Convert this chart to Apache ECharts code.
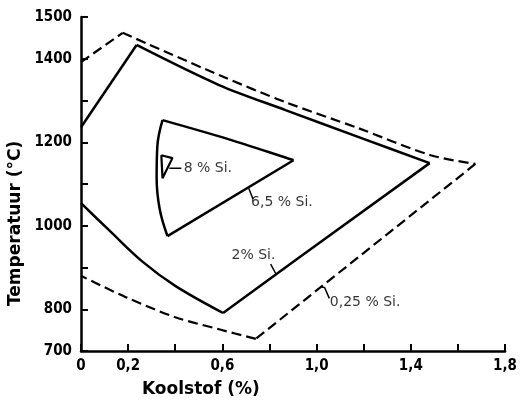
<!DOCTYPE html>
<html>
<head>
<meta charset="utf-8">
<script src="https://cdn.jsdelivr.net/npm/echarts@6/dist/echarts.min.js"></script>
<style>html,body{margin:0;padding:0;background:#fff}#c{width:520px;height:402px}</style>
</head>
<body>
<div id="c"></div>
<script>
// ---- data ----
const xTickLabels = ['0', '0,2', '0,6', '1,0', '1,4', '1,8'];
const xTickValues = [0, 0.2, 0.6, 1.0, 1.4, 1.8];
const yTickLabels = [700, 800, 1000, 1200, 1400, 1500];

// 0,25 % Si. (dashed)
const si025Left = [[0, 1392], [0.177, 1462]];
const si025Top = [[0.177, 1462], [0.586, 1361], [0.868, 1296], [1.176, 1234], [1.484, 1169], [1.674, 1148]];
const si025Right = [[1.674, 1148], [0.742, 729]];
const si025Bottom = [[0.742, 729], [0.586, 752], [0.40, 781], [0.19, 829], [0, 880]];

// 2 % Si.
const si2Left = [[0, 1236], [0.236, 1433]];
const si2Top = [[0.236, 1433], [0.586, 1337], [0.868, 1277], [1.176, 1213], [1.480, 1150]];
const si2Right = [[1.480, 1150], [0.923, 923], [0.603, 791]];
const si2Bottom = [[0.603, 791], [0.40, 856], [0.261, 914], [0.118, 990], [0, 1054]];

// 6,5 % Si.
const si65Top = [[0.346, 1253], [0.628, 1207], [0.902, 1157]];
const si65Bottom = [[0.902, 1157], [0.367, 975]];
const si65Left = [[0.367, 975], [0.334, 1040], [0.321, 1115], [0.324, 1190], [0.346, 1253]];

// 8 % Si.
const si8 = [[0.341, 1169], [0.388, 1162], [0.346, 1114], [0.341, 1169]];

// annotations
const labelTexts = ['8 % Si.', '6,5 % Si.', '2% Si.', '0,25 % Si.'];
const labelAnchors = [[0.436, 1138], [0.722, 1057], [0.639, 930], [1.056, 817]];
const leader8 = [[0.375, 1138], [0.426, 1138]];
const leader65 = [[0.712, 1090], [0.730, 1064]];
const leader2 = [[0.805, 908], [0.830, 882]];
const leader025 = [[1.020, 853], [1.034, 852], [1.054, 826]];

// ---- chart ----
const FONT = "'DejaVu Sans', sans-serif";
const FONT_C = "'DejaVu Sans Condensed', 'DejaVu Sans', sans-serif";
const chart = echarts.init(document.getElementById('c'), null, {renderer: 'canvas'});

function lineSeries(data, opts) {
  return Object.assign({
    type: 'line', data: data, symbol: 'none', smooth: false, silent: true,
    lineStyle: {color: '#000', width: 2.5}
  }, opts || {});
}
const dashed = {color: '#000', width: 2.2, type: [10, 5]};
const thin = {color: '#000', width: 1.5};

const series = [
  lineSeries(si025Left, {lineStyle: dashed}),
  lineSeries(si025Top, {lineStyle: dashed, smooth: 0.3}),
  lineSeries(si025Right, {lineStyle: dashed}),
  lineSeries(si025Bottom, {lineStyle: dashed, smooth: 0.3}),
  lineSeries(si2Left),
  lineSeries(si2Top, {smooth: 0.3}),
  lineSeries(si2Right),
  lineSeries(si2Bottom, {smooth: 0.35}),
  lineSeries(si65Top, {smooth: 0.3}),
  lineSeries(si65Bottom),
  lineSeries(si65Left, {smooth: 0.4}),
  lineSeries(si8, {lineStyle: {color: '#000', width: 2.2}}),
  lineSeries(leader8, {lineStyle: thin}),
  lineSeries(leader65, {lineStyle: thin}),
  lineSeries(leader2, {lineStyle: thin}),
  lineSeries(leader025, {lineStyle: thin}),
  {
    type: 'scatter', symbolSize: 0, silent: true,
    data: labelAnchors.map((p, i) => ({value: p, name: labelTexts[i]})),
    label: {
      show: true, position: 'right', distance: 0,
      formatter: p => p.name,
      color: '#000', fontSize: 14, fontFamily: FONT
    }
  }
];

chart.setOption({
  animation: false,
  backgroundColor: '#fff',
  grid: {left: 81, right: 12, top: 17, bottom: 51, containLabel: false},
  xAxis: {
    type: 'value', min: 0, max: 1.8, interval: 0.2,
    axisLine: {show: true, lineStyle: {color: '#000', width: 2.5}},
    axisTick: {show: true, inside: true, length: 7, lineStyle: {color: '#000', width: 2}},
    splitLine: {show: false},
    axisLabel: {
      color: '#000', fontSize: 15, fontWeight: 'bold', fontFamily: FONT_C, margin: 8,
      formatter: v => {
        const i = xTickValues.findIndex(t => Math.abs(t - v) < 1e-6);
        return i >= 0 ? xTickLabels[i] : '';
      }
    }
  },
  yAxis: {
    type: 'value', min: 700, max: 1500, interval: 100,
    axisLine: {show: true, lineStyle: {color: '#000', width: 2.5}},
    axisTick: {show: true, inside: true, length: 7, lineStyle: {color: '#000', width: 2}},
    splitLine: {show: false},
    axisLabel: {
      color: '#000', fontSize: 15, fontWeight: 'bold', fontFamily: FONT_C, margin: 9,
      formatter: v => yTickLabels.indexOf(Math.round(v)) >= 0 ? String(Math.round(v)) : ''
    }
  },
  graphic: [
    {type: 'text', left: 142, top: 381, style: {text: 'Koolstof (%)', fontSize: 17, fontWeight: 'bold', fontFamily: FONT, fill: '#000'}},
    {type: 'text', x: 7, y: 306, rotation: Math.PI / 2, style: {text: 'Temperatuur (°C)', fontSize: 17, fontWeight: 'bold', fontFamily: FONT, fill: '#000'}}
  ],
  series: series
});
</script>
</body>
</html>
